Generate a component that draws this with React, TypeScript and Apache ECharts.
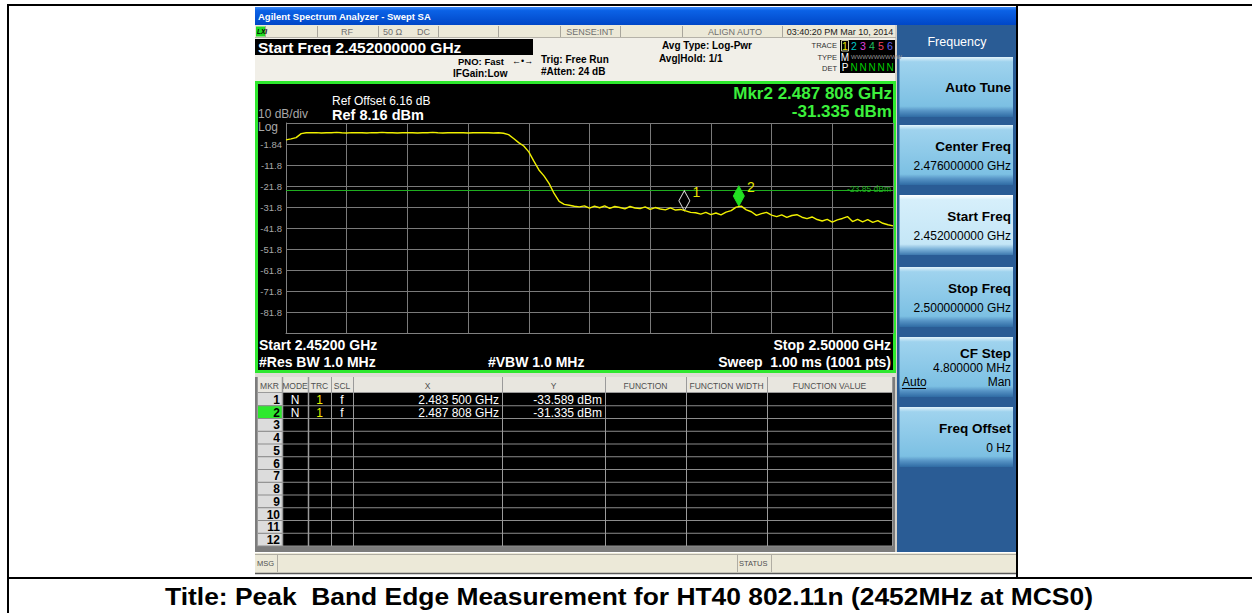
import React, { useEffect, useRef } from "react";
import * as echarts from "echarts";

// ---------------- data ----------------
const START_GHZ = 2.452;
const STOP_GHZ = 2.5;
const CENTER_GHZ = 2.476;
const TRACE_STEP_GHZ = 0.0004;
const REF_LEVEL_DBM = 8.16;
const REF_OFFSET_DB = 6.16;
const DB_PER_DIV = 10;
const DISPLAY_LINE_DBM = -23.85;

const TRACE_DBM = [
  0.1, 0.6, 1.2, 3.1, 3.5,
  3.5, 3.6, 3.4, 3.5, 3.5, 3.7, 3.5, 3.4, 3.6, 3.5,
  3.5, 3.4, 3.6, 3.5, 3.7, 3.5, 3.5, 3.4, 3.5, 3.6,
  3.5, 3.4, 3.5, 3.5, 3.7, 3.5, 3.4, 3.5, 3.6, 3.5,
  3.5, 3.4, 3.5, 3.6, 3.5, 3.5, 3.4, 3.5, 3.3,
  2.6, 0.8, -1.2, -2.8, -5.6, -10.0, -14.2, -17.0, -20.6, -25.4, -29.2, -30.6, -31.0, -31.5, -31.8,
  -31.3, -32.4, -31.4, -32.2, -31.3, -32.5, -31.6, -32.1, -32.7, -31.6,
  -32.3, -32.6, -31.8, -33.0, -32.1, -32.8, -33.2, -32.3, -33.3, -33.0,
  -33.7, -34.4, -34.6, -35.2, -34.4, -35.5, -34.7, -35.6, -34.3, -33.6,
  -31.9, -31.4, -33.2, -34.1, -35.8, -35.0, -34.4, -35.7, -36.4, -35.6,
  -36.8, -35.9, -35.5, -36.7, -37.4, -36.6, -37.8, -38.5, -37.7, -39.0,
  -38.0, -37.3, -36.4, -38.8, -37.7, -38.9, -37.9, -39.2, -38.3, -39.6,
  -40.3, -40.8,
];

const MARKER_FREQ_GHZ = [2.4835, 2.487808];
const MARKER_DBM = [-33.589, -31.335];
const MARKER_NAMES = ["1", "2"];
const ACTIVE_MARKER = 1;

const TABLE_HEADERS = ["MKR", "MODE", "TRC", "SCL", "X", "Y", "FUNCTION", "FUNCTION WIDTH", "FUNCTION VALUE"];
const TABLE_ROW_IDS = [1, 2, 3, 4, 5, 6, 7, 8, 9, 10, 11, 12];

const SOFTKEY_TITLES = ["Auto Tune", "Center Freq", "Start Freq", "Stop Freq", "CF Step", "Freq Offset"];
const SOFTKEY_VALUES = [
  "",
  `${CENTER_GHZ.toFixed(9)} GHz`,
  `${START_GHZ.toFixed(9)} GHz`,
  `${STOP_GHZ.toFixed(9)} GHz`,
  "4.800000 MHz",
  "0 Hz",
];

const STATUS_CELLS = ["RF", "50 Ω", "DC", "SENSE:INT", "ALIGN AUTO", "03:40:20 PM Mar 10, 2014"];
const PAGE_TITLE = "Title: Peak  Band Edge Measurement for HT40 802.11n (2452MHz at MCS0)";

// ---------------- layout ----------------
const FF = '"Liberation Sans", Arial, Helvetica, sans-serif';
const GRID = { left: 286, top: 123, width: 607, height: 210 };
const COL_EDGES = [257, 282, 308, 331, 353, 502, 605, 686, 767, 892];
const ROW_TOP = 393;
const ROW_H = 12.75;
const KEY_TOPS = [57, 125, 195, 267, 337, 407];

const fmtGHz = (f: number) => {
  const s = f.toFixed(6);
  return s.slice(0, 5) + " " + s.slice(5);
};

function txt(x: number, y: number, text: string, size: number, fill: string, o: any = {}) {
  const el: any = {
    type: "text",
    x,
    y,
    z: o.z ?? 20,
    silent: true,
    style: {
      text,
      fill,
      fontSize: size,
      fontFamily: o.ff || FF,
      fontWeight: o.bold ? "bold" : "normal",
      fontStyle: o.italic ? "italic" : "normal",
      align: o.align || "left",
      verticalAlign: o.va || "middle",
    },
  };
  if (o.sx) el.scaleX = o.sx;
  return el;
}
function rect(x: number, y: number, w: number, h: number, fill: any, z = -20, o: any = {}) {
  return {
    type: "rect",
    z,
    silent: true,
    shape: { x, y, width: w, height: h },
    style: { fill, stroke: o.stroke || null, lineWidth: o.lw ?? 1 },
  };
}
function line(x1: number, y1: number, x2: number, y2: number, stroke: string, lw = 1, z = -12) {
  return { type: "line", z, silent: true, shape: { x1, y1, x2, y2 }, style: { stroke, lineWidth: lw } };
}

function buildGraphics() {
  const els: any[] = [];
  const LG = (stops: [number, string][]) =>
    new echarts.graphic.LinearGradient(0, 0, 0, 1, stops.map(([offset, color]) => ({ offset, color })));

  // screenshot background
  els.push(rect(255, 7, 762, 567, "#ece9d8", -30));
  // title bar
  els.push(rect(255, 7, 762, 18, LG([[0, "#3d8af7"], [0.2, "#0b62e6"], [1, "#0047c7"]]), -25));
  els.push(txt(258, 16.5, "Agilent Spectrum Analyzer - Swept SA", 9.5, "#ffffff", { bold: true }));

  // status row
  els.push(rect(255, 25, 641, 12, "#ece9d8", -25));
  els.push(line(255, 37.5, 896, 37.5, "#b5b2a8", 1));
  els.push(rect(256, 26.5, 9, 10, "#22dd22", -15));
  els.push(txt(257, 31.5, "LXI", 6.5, "#000000", { bold: true, italic: true }));
  [265, 317, 378, 438, 498, 560, 620, 682, 782].forEach((x) => els.push(line(x + 0.5, 26, x + 0.5, 37, "#a9a69c")));
  els.push(txt(347, 31.5, STATUS_CELLS[0], 9, "#707070", { align: "center" }));
  els.push(txt(383, 31.5, STATUS_CELLS[1], 9, "#707070"));
  els.push(txt(417, 31.5, STATUS_CELLS[2], 9, "#707070"));
  els.push(txt(590, 31.5, STATUS_CELLS[3], 9, "#707070", { align: "center" }));
  els.push(txt(735, 31.5, STATUS_CELLS[4], 9, "#707070", { align: "center" }));
  els.push(txt(840, 31.5, STATUS_CELLS[5], 9, "#202020", { align: "center" }));

  // header info
  els.push(rect(255, 38, 641, 44, "#f1efe8", -25));
  els.push(rect(255, 39, 278, 16, "#000000", -20));
  els.push(txt(258, 47.5, `Start Freq ${START_GHZ.toFixed(9)} GHz`, 15.5, "#ffffff", { bold: true }));
  els.push(txt(458, 61, "PNO: Fast", 9.5, "#000000", { bold: true }));
  els.push(txt(512, 61, "←•→", 9, "#000000"));
  els.push(txt(453, 73, "IFGain:Low", 10, "#000000", { bold: true }));
  els.push(txt(541, 59, "Trig: Free Run", 10, "#000000", { bold: true }));
  els.push(txt(541, 71, "#Atten: 24 dB", 10, "#000000", { bold: true }));
  els.push(txt(662, 45, "Avg Type: Log-Pwr", 10, "#000000", { bold: true }));
  els.push(txt(659, 58, "Avg|Hold: 1/1", 10, "#000000", { bold: true }));
  els.push(txt(837, 45, "TRACE", 7.5, "#303030", { align: "right" }));
  els.push(txt(837, 57, "TYPE", 7.5, "#303030", { align: "right" }));
  els.push(txt(837, 68, "DET", 7.5, "#303030", { align: "right" }));
  els.push(rect(840, 40, 55, 33, "#000000", -20));
  els.push(rect(841.5, 40.5, 7, 10.5, "rgba(0,0,0,0)", -15, { stroke: "#c8c8a0" }));
  const traceColors = ["#e8e800", "#00c8c8", "#e040e0", "#20c060", "#f04060", "#6060f0"];
  const traceX = [845, 854, 863, 872, 881, 890];
  traceColors.forEach((c, i) => els.push(txt(traceX[i], 45.5, String(i + 1), 10.5, c, { align: "center" })));
  els.push(txt(845, 57, "M", 10, "#ffffff", { align: "center" }));
  els.push(txt(851, 57, "WWWWWWWWW", 6, "#9a9a9a"));
  els.push(txt(845, 67.5, "P", 10, "#ffffff", { align: "center" }));
  traceX.slice(1).forEach((x) => els.push(txt(x, 67.5, "N", 10, "#00d000", { align: "center" })));

  // plot frame
  els.push({
    type: "rect",
    z: -20,
    silent: true,
    shape: { x: 256.5, y: 82.5, width: 638, height: 289 },
    style: { fill: "#000000", stroke: "#2ee82e", lineWidth: 3 },
  });
  els.push(txt(332, 100.5, `Ref Offset ${REF_OFFSET_DB.toFixed(2)} dB`, 12, "#ffffff"));
  els.push(txt(332, 114.5, `Ref ${REF_LEVEL_DBM.toFixed(2)} dBm`, 14.5, "#ffffff", { bold: true }));
  els.push(txt(258, 114, `${DB_PER_DIV} dB/div`, 12, "#a8a8a8"));
  els.push(txt(258, 126.5, "Log", 12, "#a8a8a8"));
  els.push(
    txt(892, 93, `Mkr${ACTIVE_MARKER + 1} ${fmtGHz(MARKER_FREQ_GHZ[ACTIVE_MARKER])} GHz`, 17, "#3cf03c", {
      bold: true,
      align: "right",
    })
  );
  els.push(txt(892, 111, `${MARKER_DBM[ACTIVE_MARKER].toFixed(3)} dBm`, 17, "#3cf03c", { bold: true, align: "right" }));
  els.push(txt(259, 345, `Start ${START_GHZ.toFixed(5)} GHz`, 14, "#ffffff", { bold: true }));
  els.push(txt(891, 345, `Stop ${STOP_GHZ.toFixed(5)} GHz`, 14, "#ffffff", { bold: true, align: "right" }));
  els.push(txt(259, 361.5, "#Res BW 1.0 MHz", 14, "#ffffff", { bold: true }));
  els.push(txt(488, 361.5, "#VBW 1.0 MHz", 14, "#ffffff", { bold: true }));
  els.push(txt(891, 361.5, "Sweep  1.00 ms (1001 pts)", 14, "#ffffff", { bold: true, align: "right" }));

  // marker table
  els.push(rect(255, 373, 641, 179, "#7c7c7c", -25));
  els.push(rect(255, 373, 641, 4, "#dedcd4", -20));
  els.push(rect(COL_EDGES[0], 377, COL_EDGES[COL_EDGES.length - 1] - COL_EDGES[0], 16, "#e8e6df", -20));
  const bodyH = ROW_H * TABLE_ROW_IDS.length;
  els.push(rect(COL_EDGES[0], ROW_TOP, COL_EDGES[COL_EDGES.length - 1] - COL_EDGES[0], bodyH, "#000000", -20));
  TABLE_HEADERS.forEach((h, i) => {
    const cx = (COL_EDGES[i] + COL_EDGES[i + 1]) / 2;
    els.push(txt(cx, 385.5, h, 8.5, "#505050", { align: "center" }));
  });
  TABLE_ROW_IDS.forEach((id, r) => {
    const y = ROW_TOP + r * ROW_H;
    const isActive = r === ACTIVE_MARKER;
    els.push(rect(COL_EDGES[0], y, COL_EDGES[1] - COL_EDGES[0], ROW_H, isActive ? "#2ee82e" : "#dcdcdc", -15));
    els.push(txt(COL_EDGES[1] - 2, y + ROW_H / 2 + 0.5, String(id), 12, "#000000", { bold: true, align: "right" }));
    els.push(line(COL_EDGES[0], y + ROW_H, COL_EDGES[COL_EDGES.length - 1], y + ROW_H, "#8c8c8c", 1, -10));
    if (r < MARKER_FREQ_GHZ.length) {
      const cy = y + ROW_H / 2 + 0.5;
      els.push(txt((COL_EDGES[1] + COL_EDGES[2]) / 2, cy, "N", 12, "#ffffff", { align: "center" }));
      els.push(txt((COL_EDGES[2] + COL_EDGES[3]) / 2, cy, "1", 12, "#f0f000", { align: "center" }));
      els.push(txt((COL_EDGES[3] + COL_EDGES[4]) / 2, cy, "f", 12, "#ffffff", { align: "center" }));
      els.push(txt(COL_EDGES[5] - 3, cy, `${fmtGHz(MARKER_FREQ_GHZ[r])} GHz`, 12, "#ffffff", { align: "right" }));
      els.push(txt(COL_EDGES[6] - 3, cy, `${MARKER_DBM[r].toFixed(3)} dBm`, 12, "#ffffff", { align: "right" }));
    }
  });
  els.push(line(COL_EDGES[0], 392.5, COL_EDGES[COL_EDGES.length - 1], 392.5, "#9a9a9a", 1, -10));
  COL_EDGES.forEach((x) => els.push(line(x + 0.5, 377, x + 0.5, ROW_TOP + bodyH, "#9a9a9a", x === 282 || x === 308 ? 1.5 : 1, -10)));

  // bottom status bar
  els.push(rect(255, 552, 762, 21, "#ece9d8", -25));
  els.push(line(255, 552.5, 1016, 552.5, "#ffffff", 1));
  els.push(line(255, 554.5, 1016, 554.5, "#b0ada3", 1));
  [277, 737, 771].forEach((x) => els.push(line(x + 0.5, 555, x + 0.5, 572, "#b0ada3")));
  els.push(txt(257, 563.5, "MSG", 7.5, "#505050"));
  els.push(txt(739, 563.5, "STATUS", 7.5, "#505050"));
  els.push(line(255, 573.5, 1016, 573.5, "#5a5a5a", 1.5));

  // softkey panel
  els.push(rect(895, 25, 2, 527, "#d4d0c8", -25));
  els.push(rect(897, 25, 119, 527, "#2a5c95", -25));
  els.push(txt(957, 41.5, "Frequency", 12.5, "#ffffff", { align: "center" }));
  KEY_TOPS.forEach((top, i) => {
    const active = i === 2;
    const fill = active
      ? LG([[0, "#ffffff"], [0.08, "#d6effb"], [0.82, "#c4e6f6"], [0.9, "#7eb4da"], [1, "#3d78ae"]])
      : LG([[0, "#e2f3fb"], [0.08, "#9fd3ee"], [0.82, "#7cc0e3"], [0.9, "#5592c4"], [1, "#2f6ba4"]]);
    els.push(rect(899.5, top, 113.5, 60, fill, -15));
    const title = SOFTKEY_TITLES[i];
    const val = SOFTKEY_VALUES[i];
    if (!val) {
      els.push(txt(1011, top + 30, title, 13.5, "#000000", { bold: true, align: "right" }));
    } else if (title === "CF Step") {
      els.push(txt(1011, top + 16, title, 13.5, "#000000", { bold: true, align: "right" }));
      els.push(txt(1011, top + 31, val, 12, "#000000", { align: "right" }));
      els.push(txt(902, top + 45, "Auto", 12, "#000000"));
      els.push(line(902, top + 51.5, 926, top + 51.5, "#000000", 1, -5));
      els.push(txt(1011, top + 45, "Man", 12, "#000000", { align: "right" }));
    } else {
      els.push(txt(1011, top + 21.5, title, 13.5, "#000000", { bold: true, align: "right" }));
      els.push(txt(1011, top + 41, val, 12, "#000000", { align: "right" }));
    }
  });

  // page borders and title
  els.push(rect(7, 4, 1245, 2, "#000000", 30));
  els.push(rect(7, 4, 2, 609, "#000000", 30));
  els.push(rect(1016, 4, 2, 575, "#000000", 30));
  els.push(rect(7, 577, 1245, 2, "#000000", 30));
  els.push(txt(629, 596, PAGE_TITLE, 24, "#000000", { bold: true, align: "center", sx: 1.1 }));
  return els;
}

export default function App() {
  const ref = useRef<HTMLDivElement>(null);
  useEffect(() => {
    if (!ref.current) return;
    const chart = echarts.init(ref.current, undefined, { renderer: "svg" });
    const traceData = TRACE_DBM.map((v, i) => [START_GHZ + i * TRACE_STEP_GHZ, v]);
    const yLabel = (v: number) =>
      v <= 0 || v >= 10 ? "" : (REF_LEVEL_DBM - (10 - v) * DB_PER_DIV).toPrecision(3);

    chart.setOption({
      animation: false,
      backgroundColor: "#ffffff",
      graphic: { elements: buildGraphics() },
      grid: { ...GRID, containLabel: false },
      xAxis: [
        { type: "value", min: START_GHZ, max: STOP_GHZ, show: false },
        {
          type: "value",
          min: 0,
          max: 10,
          interval: 1,
          position: "bottom",
          axisLabel: { show: false },
          axisTick: { show: false },
          axisLine: { show: true, lineStyle: { color: "#808080", width: 1 } },
          splitLine: { show: true, lineStyle: { color: "#7a7a7a", width: 1 } },
        },
      ],
      yAxis: [
        { type: "value", min: REF_LEVEL_DBM - 10 * DB_PER_DIV, max: REF_LEVEL_DBM, show: false },
        {
          type: "value",
          min: 0,
          max: 10,
          interval: 1,
          position: "left",
          axisLabel: { show: true, formatter: yLabel, color: "#a8a8a8", fontSize: 9.5, margin: 4, fontFamily: FF },
          axisTick: { show: false },
          axisLine: { show: true, lineStyle: { color: "#808080", width: 1 } },
          splitLine: { show: true, lineStyle: { color: "#7a7a7a", width: 1 } },
        },
      ],
      series: [
        {
          type: "line",
          xAxisIndex: 0,
          yAxisIndex: 0,
          data: traceData,
          showSymbol: false,
          symbol: "none",
          z: 5,
          lineStyle: { color: "#f0f000", width: 1.4 },
          silent: true,
          markLine: {
            silent: true,
            symbol: ["none", "none"],
            lineStyle: { color: "#1fae1f", width: 1, type: "solid" },
            label: {
              show: true,
              position: "insideEndTop",
              formatter: `${DISPLAY_LINE_DBM.toFixed(2)} dBm`,
              color: "#1fae1f",
              fontSize: 8.5,
              fontFamily: FF,
              distance: [2, -3],
            },
            data: [{ yAxis: DISPLAY_LINE_DBM }],
          },
          markPoint: {
            silent: true,
            symbol: "diamond",
            symbolSize: [11, 20],
            symbolOffset: [0, -10],
            label: {
              show: true,
              formatter: "{b}",
              position: [14, -5],
              color: "#e6e600",
              fontSize: 14,
              fontFamily: FF,
            },
            data: MARKER_FREQ_GHZ.map((f, i) => ({
              name: MARKER_NAMES[i],
              coord: [f, MARKER_DBM[i]],
              itemStyle:
                i === ACTIVE_MARKER
                  ? { color: "#22e022", borderColor: "#22e022", borderWidth: 1 }
                  : { color: "rgba(0,0,0,0)", borderColor: "#d8d8d8", borderWidth: 1 },
            })),
          },
        },
      ],
    });
    return () => chart.dispose();
  }, []);
  return <div ref={ref} style={{ position: "absolute", left: 0, top: 0, width: 1252, height: 613 }} />;
}
